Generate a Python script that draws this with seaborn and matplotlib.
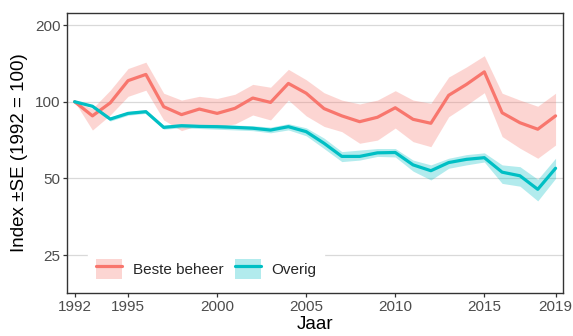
import numpy as np
import pandas as pd
import matplotlib
matplotlib.use("Agg")
import matplotlib.pyplot as plt
import seaborn as sns
from matplotlib.patches import Patch
from matplotlib.lines import Line2D
from matplotlib.ticker import FixedLocator, FixedFormatter, NullLocator

# data
years = list(range(1992, 2020))

beste_index = [100, 88, 99, 121, 128, 95.6, 89, 93.6, 90, 94.2, 103.4, 99.4, 118, 108,
               94, 88, 83.5, 86.9, 94.7, 85.3, 82.3, 106, 117, 131, 90.5, 82.7, 78, 88]
beste_upper = [100, 94, 111, 135, 143, 108, 101.5, 105, 103, 107, 117, 114, 134, 122,
               108.5, 101.5, 98, 101.5, 110.5, 101.5, 98.6, 125, 137, 151.6, 108, 101.5, 96, 108]
beste_lower = [100, 77.4, 88.7, 105, 111, 84.8, 77, 81, 79.8, 81.8, 88.7, 84.8, 101.5, 88,
               80, 76.3, 68.7, 70.7, 78.8, 69.7, 66.6, 87.3, 97, 108.5, 73, 65.7, 60, 67.6]

overig_index = [100, 96, 85.5, 90, 91.4, 79.3, 80.5, 80, 79.8, 79.3, 78.7, 77.4, 79.8, 76.3,
                68.7, 61, 61, 63, 63.2, 56.5, 53.6, 57.7, 59.4, 60.3, 52.9, 51.2, 45.3, 54.8]
overig_upper = [100, 97, 87, 91.5, 93, 81, 82, 81.5, 81.5, 81, 80.5, 79.5, 82, 79,
                72, 63.7, 64.6, 65.5, 65.5, 59, 56.5, 60, 62, 63, 56.5, 55.6, 49.6, 60]
overig_lower = [100, 95, 84, 88.5, 90, 78, 79, 78.5, 78, 77.5, 77, 75.5, 77.5, 73.5,
                65.5, 58.2, 59, 61, 60.7, 53.4, 49.3, 54.8, 56.5, 58, 47.8, 46.6, 40.8, 50]

groups = ["Beste beheer", "Overig"]
colors = ["#F8766D", "#00BFC4"]

df = pd.DataFrame({
    "Jaar": years * 2,
    "Index": beste_index + overig_index,
    "Groep": [groups[0]] * len(years) + [groups[1]] * len(years),
})

sns.set_theme(style="white")
plt.rcParams["font.family"] = ["Liberation Sans", "DejaVu Sans"]

fig = plt.figure(figsize=(5.73, 3.36), dpi=100)
ax = fig.add_axes([0.1175, 0.129, 0.8642, 0.833])

# ribbons
ax.fill_between(years, beste_lower, beste_upper, color=colors[0], alpha=0.3, lw=0)
ax.fill_between(years, overig_lower, overig_upper, color=colors[1], alpha=0.3, lw=0)

sns.lineplot(data=df, x="Jaar", y="Index", hue="Groep", palette=colors,
             linewidth=2.3, ax=ax, legend=False)

ax.set_yscale("log", base=2)
ax.set_ylim(17.8, 223.5)
ax.set_xlim(1991.59, 2019.39)

ax.yaxis.set_major_locator(FixedLocator([25, 50, 100, 200]))
ax.yaxis.set_major_formatter(FixedFormatter(["25", "50", "100", "200"]))
ax.yaxis.set_minor_locator(NullLocator())
ax.set_xticks([1992, 1995, 2000, 2005, 2010, 2015, 2019])

ax.grid(axis="y", color="#d9d9d9", lw=0.9)
ax.grid(axis="x", visible=False)
ax.set_axisbelow(True)

for s in ax.spines.values():
    s.set_color("#333333")
    s.set_linewidth(1.0)

ax.tick_params(axis="both", which="major", length=3, width=0.9, color="#333333",
               labelsize=11, labelcolor="#4D4D4D", pad=2, direction="out",
               bottom=True, left=True)

ax.set_xlabel("Jaar", fontsize=13.5, color="black", labelpad=2)
ax.set_ylabel("Index \u00b1SE (1992 = 100)", fontsize=13.5, color="black", labelpad=5)

handles = [(Patch(facecolor=c, alpha=0.3, lw=0), Line2D([], [], color=c, lw=2.3))
           for c in colors]
leg = ax.legend(handles, groups, loc="lower left", bbox_to_anchor=(0.0426, 0.02),
                ncol=2, frameon=True, fontsize=11, handlelength=1.7, handleheight=1.7,
                handletextpad=0.72, columnspacing=0.72, borderpad=0.5, borderaxespad=0)
leg.get_frame().set_facecolor("white")
leg.get_frame().set_edgecolor("white")
leg.get_frame().set_alpha(1)

fig.savefig("out.png", dpi=100)
